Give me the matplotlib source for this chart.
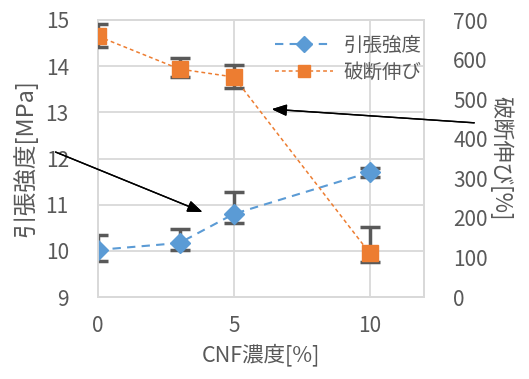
import matplotlib.pyplot as plt
from matplotlib.lines import Line2D

plt.rcParams['font.family'] = ['Noto Sans CJK JP', 'DejaVu Sans']

# CNF concentration [%]
cnf = [0, 3, 5, 10]

# tensile strength [MPa] with lower/upper error
tensile = [10.02, 10.17, 10.8, 11.7]
tensile_lo = [0.24, 0.15, 0.2, 0.1]
tensile_hi = [0.32, 0.3, 0.47, 0.1]

# elongation at break [%] with lower/upper error
elong = [659, 576, 556, 111]
elong_lo = [28, 21, 28, 23]
elong_hi = [30, 27, 30, 66]

xticks = [0, 5, 10]
gray = '#595959'
grid = '#d9d9d9'
blue = '#5b9bd5'
orange = '#ed7d31'

fig = plt.figure(figsize=(5.29, 3.79), dpi=100)
ax = fig.add_axes([98 / 529, 82 / 379, 326 / 529, 277 / 379])
ax2 = ax.twinx()

ax.set_xlim(0, 12)
ax.set_ylim(9, 15)
ax2.set_ylim(0, 700)
ax.set_xticks(xticks)
ax.set_yticks(range(9, 16))
ax2.set_yticks(range(0, 701, 100))

ax.grid(True, color=grid, lw=1.3)
ax.axvline(12, color=grid, lw=1.3)
for a in (ax, ax2):
    for s in a.spines.values():
        s.set_color(grid)
        s.set_linewidth(1.3)
    a.tick_params(length=0, labelsize=15, colors=gray)
ax.tick_params(axis='x', pad=13)
ax.tick_params(axis='y', pad=21)
ax2.tick_params(axis='y', pad=21)
ax.set_axisbelow(True)

ax.errorbar(cnf, tensile, yerr=[tensile_lo, tensile_hi], fmt='none',
            ecolor=gray, elinewidth=2.5, capsize=7, capthick=2.5, zorder=3)
ax.plot(cnf, tensile, color=blue, ls=(0, (4, 3)), lw=1.5, marker='D',
        ms=10, mfc=blue, mec=blue, zorder=4)

ax2.errorbar(cnf, elong, yerr=[elong_lo, elong_hi], fmt='none',
             ecolor=gray, elinewidth=2.5, capsize=7, capthick=2.5, zorder=3)
ax2.plot(cnf, elong, color=orange, ls=(0, (2.5, 2)), lw=1.1, marker='s',
         ms=12, mfc=orange, mec=orange, zorder=4)

ax.set_xlabel('CNF濃度[%]', fontsize=15.5, color=gray, labelpad=5)
ax.set_ylabel('引張強度[MPa]', fontsize=17, color=gray, labelpad=6)
ax2.set_ylabel('破断伸び[%]', fontsize=16, color=gray, rotation=270,
               labelpad=18)

handles = [
    Line2D([], [], color=blue, ls=(0, (4, 3)), lw=1.5, marker='D', ms=8),
    Line2D([], [], color=orange, ls=(0, (2.5, 2)), lw=1.1, marker='s', ms=8),
]
ax2.legend(handles, ['引張強度', '破断伸び'], loc='upper right',
           bbox_to_anchor=(1.045, 1.01), frameon=False, fontsize=14,
           labelcolor=gray, numpoints=1, handlelength=3.0, handletextpad=0.5,
           labelspacing=0.3)

arrow = dict(arrowstyle='-|>,head_length=0.9,head_width=0.35', color='black',
             lw=1)
fig.add_artist(plt.annotate('', xy=(205, 166), xytext=(53, 228),
                            xycoords='figure pixels',
                            textcoords='figure pixels', arrowprops=arrow))
fig.add_artist(plt.annotate('', xy=(269, 270), xytext=(477, 256),
                            xycoords='figure pixels',
                            textcoords='figure pixels', arrowprops=arrow))

fig.savefig('out.png', dpi=100)
